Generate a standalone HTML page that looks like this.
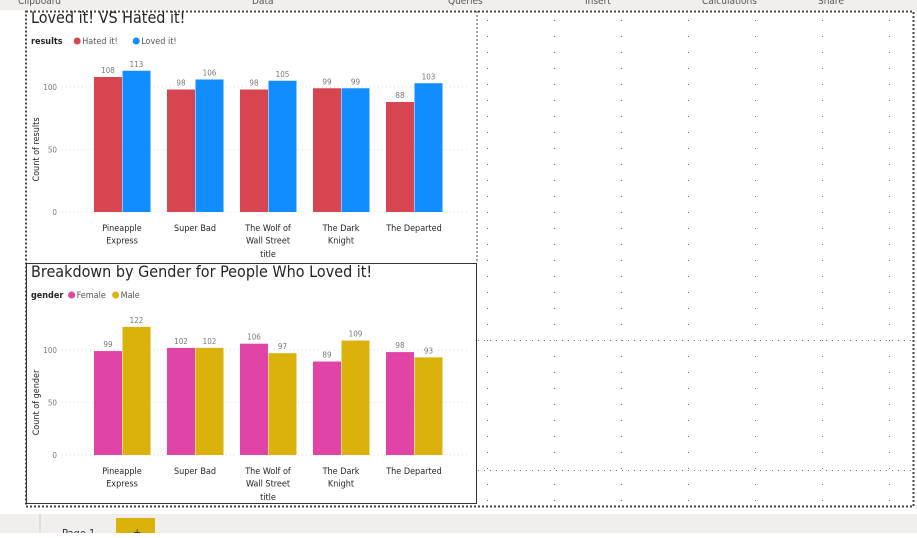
<!DOCTYPE html>
<html><head><meta charset="utf-8"><style>
body{margin:0;width:917px;height:533px;overflow:hidden;background:#fff;font-family:"Liberation Sans",sans-serif}
svg text{font-family:"DejaVu Sans Condensed","Liberation Sans",sans-serif}
</style></head><body>
<svg id="s" width="917" height="533" xmlns="http://www.w3.org/2000/svg">
<rect x="0" y="0" width="917" height="10" fill="#f0efed"/>
<text x="18" y="4" font-size="10" fill="#555">Clipboard</text>
<text x="252" y="4" font-size="10" fill="#555">Data</text>
<text x="448" y="4" font-size="10" fill="#555">Queries</text>
<text x="585" y="4" font-size="10" fill="#555">Insert</text>
<text x="702" y="4" font-size="10" fill="#555">Calculations</text>
<text x="818" y="4" font-size="10" fill="#555">Share</text>
<g id="grid"></g>
<rect x="26" y="11.5" width="887.5" height="495" fill="none" stroke="#444" stroke-width="2" stroke-dasharray="2,2"/>
<line x1="477" y1="11" x2="477" y2="263" stroke="#444" stroke-dasharray="2,2"/>
<rect x="26.5" y="263.5" width="450" height="240" fill="none" stroke="#333"/>
<g id="c1"></g>
<g id="c2"></g>
<rect x="0" y="514" width="917" height="19" fill="#f0efed"/>
<line x1="40" y1="514" x2="40" y2="533" stroke="#ccc"/>
<text x="62" y="537" font-size="11" fill="#333">Page 1</text>
<rect x="116" y="518" width="39" height="15" fill="#dbb20b"/>
<text x="133" y="536" font-size="11" fill="#333">+</text>
</svg>
<script>
const categories=[["Pineapple","Express"],["Super Bad"],["The Wolf of","Wall Street"],["The Dark","Knight"],["The Departed"]];
const hated=[108,98,98,99,88];
const loved=[113,106,105,99,103];
const female=[99,102,106,89,98];
const male=[122,102,97,109,93];
const yTicks=[0,50,100];
const NS="http://www.w3.org/2000/svg";
function el(p,t,a,txt){const e=document.createElementNS(NS,t);for(const k in a)e.setAttribute(k,a[k]);if(txt!==undefined)e.textContent=txt;p.appendChild(e);return e;}
const grid=document.getElementById('grid');
for(let x=487;x<915;x+=67){for(let y=20;y<505;y+=16){el(grid,'rect',{x:x,y:y,width:1,height:1,fill:'#777'});}}
for(let x=478;x<915;x+=6){el(grid,'rect',{x:x,y:340,width:1,height:1,fill:'#777'});}
for(let x=478;x<915;x+=6){el(grid,'rect',{x:x,y:470,width:1,height:1,fill:'#777'});}
function chart(g,opt){
  el(g,'text',{x:31,y:opt.top+13,'font-size':16,fill:'#252423'},opt.title);
  const lg=el(g,'g',{});
  
  
  el(lg,'text',{x:31,y:opt.top+34,'font-size':9,'font-weight':'bold',fill:'#252423'},opt.legTitle);
  let lx=31+opt.legTitle.length*5.6+4;
  opt.series.forEach(s=>{el(lg,'circle',{cx:lx+3,cy:opt.top+31,r:3.5,fill:s.color});el(lg,'text',{x:lx+8,y:opt.top+34,'font-size':9,fill:'#555'},s.name);lx+=s.name.length*5+14;});
  const y=v=>opt.y0-v*opt.k;
  yTicks.forEach(t=>{
    const tl=el(g,'text',{x:57,y:y(t)+3,'font-size':8,fill:'#777','text-anchor':'end'},t);
    
    el(g,'line',{x1:62,x2:470,y1:y(t),y2:y(t),stroke:'#ddd','stroke-dasharray':'1,3'});
  });
  const yt=el(g,'text',{x:0,y:0,'font-size':9,fill:'#252423','text-anchor':'middle',transform:`translate(39,${(opt.y0+y(100))/2}) rotate(-90)`},opt.yTitle);
  
  categories.forEach((c,i)=>{
    const cx=122+i*73;
    opt.series.forEach((s,j)=>{
      const v=s.data[i];const bx=cx-28+j*28.5;
      const r=el(g,'rect',{x:bx,y:y(v),width:28,height:v*opt.k,fill:s.color});
      
      
      el(g,'text',{x:bx+14,y:y(v)-4,'font-size':8,fill:'#777','text-anchor':'middle'},v);
    });
    c.forEach((ln,k)=>{const t=el(g,'text',{x:cx,y:opt.y0+19+k*12.5,'font-size':9,fill:'#252423','text-anchor':'middle'},ln);});
  });
  const xt=el(g,'text',{x:268,y:opt.y0+45,'font-size':9,fill:'#252423','text-anchor':'middle'},'title');
  
}
chart(document.getElementById('c1'),{top:10,title:'Loved it! VS Hated it!',legTitle:'results',yTitle:'Count of results',y0:212,k:1.25,
  series:[{name:'Hated it!',color:'#d64550',data:hated},{name:'Loved it!',color:'#118dff',data:loved}]});
chart(document.getElementById('c2'),{top:264,title:'Breakdown by Gender for People Who Loved it!',legTitle:'gender',yTitle:'Count of gender',y0:455,k:1.05,
  series:[{name:'Female',color:'#e044a7',data:female},{name:'Male',color:'#dbb20b',data:male}]});
</script>
</body></html>
